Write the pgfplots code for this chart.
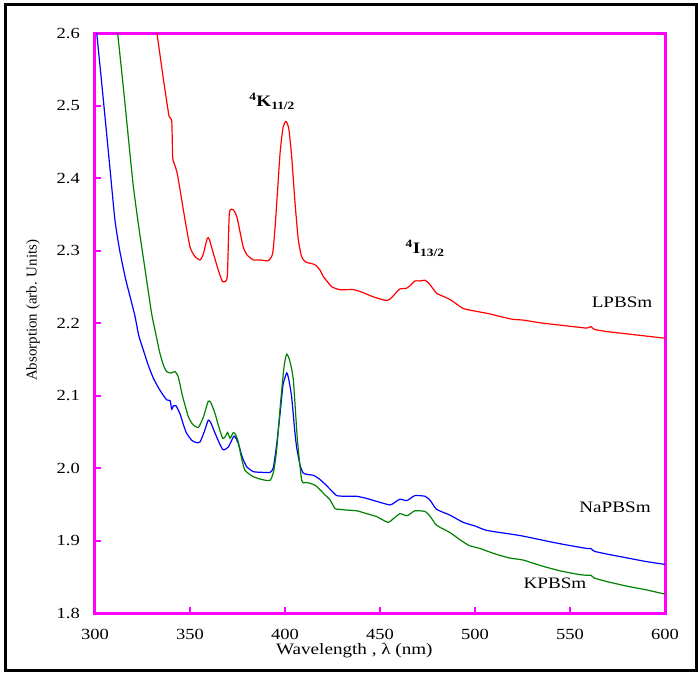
\documentclass[border=0pt]{standalone}
\usepackage{fontspec}
\setmainfont{Liberation Serif}[FakeStretch=1.2]
\newfontfamily\plainserif{Liberation Serif}
\usepackage{pgfplots}
\pgfplotsset{compat=1.18}
\definecolor{mag}{RGB}{255,0,255}
\definecolor{dgreen}{RGB}{0,128,0}
\definecolor{cblue}{RGB}{0,0,255}
\definecolor{cred}{RGB}{255,0,0}

\pgfplotstableread{
x y
332.6 2.600
335.8 2.540
337.5 2.510
339 2.485
340.4 2.478
340.9 2.428
342 2.418
343.3 2.406
345 2.380
347.4 2.342
350 2.305
352.5 2.292
355.3 2.287
357 2.295
359.1 2.317
360.2 2.315
362.3 2.296
365 2.272
367.2 2.257
369.6 2.264
370.7 2.351
372.8 2.356
374.6 2.347
376 2.330
378 2.305
380 2.294
383.3 2.287
387 2.287
391.2 2.286
393.5 2.296
395 2.340
397.4 2.434
399 2.470
400.5 2.478
402 2.468
403.5 2.430
405.3 2.365
407 2.315
408.8 2.291
411 2.284
414 2.282
416 2.280
418.4 2.273
420.2 2.264
422 2.258
424.6 2.250
428.9 2.246
436 2.246
441 2.242
446.5 2.236
453.5 2.231
456.1 2.235
458.5 2.242
460.5 2.247
464 2.248
466 2.252
468.4 2.258
471 2.258
473.7 2.259
476 2.254
479.8 2.241
484 2.236
487.7 2.231
493.8 2.220
500.9 2.216
507 2.213
513.2 2.209
520 2.205
525.4 2.204
535 2.200
545 2.197
555 2.194
559 2.193
561 2.195
563 2.191
570 2.188
580 2.185
590 2.182
600 2.179
}\redtab

\pgfplotstableread{
x y
300.9 2.600
303 2.545
305.5 2.478
308 2.410
310.5 2.342
313 2.300
316 2.262
318.5 2.236
321 2.210
323 2.183
325.4 2.163
328 2.142
330.7 2.124
334 2.108
337.7 2.094
339.5 2.093
340.4 2.081
341.3 2.086
342.6 2.086
344.7 2.075
346.5 2.060
348.2 2.048
351 2.038
353.5 2.035
355.3 2.036
357.5 2.050
359.6 2.066
361 2.062
363.2 2.048
365.5 2.034
367.5 2.025
370.2 2.029
373.2 2.044
375.4 2.034
377.5 2.015
379.8 2.002
383.3 1.995
388 1.994
392.1 1.994
393.8 2.000
395.5 2.030
397.4 2.075
399 2.115
400.9 2.131
402 2.122
403.5 2.098
405 2.055
406.1 2.029
408 2.003
409.6 1.993
412 1.991
414.9 1.990
418 1.985
421 1.978
424 1.970
427.2 1.962
432 1.961
437.7 1.961
443 1.958
448.2 1.954
455.3 1.949
458 1.953
460.5 1.957
464 1.955
466 1.958
468.4 1.962
473.7 1.961
476.5 1.955
479.8 1.943
486.8 1.935
493.8 1.925
500 1.920
506.1 1.914
518.4 1.909
525.4 1.906
540 1.898
550 1.893
559 1.889
561 1.889
563 1.885
570 1.881
580 1.876
590 1.871
600 1.867
}\bluetab

\pgfplotstableread{
x y
311.9 2.600
314 2.548
316 2.497
318 2.444
320.2 2.388
323 2.333
326 2.280
329.8 2.213
331.6 2.190
334 2.160
336 2.142
337.7 2.133
340 2.131
342.1 2.133
343.8 2.126
346 2.100
349.1 2.071
351.5 2.060
354.4 2.056
357 2.070
359.6 2.092
361 2.090
363.2 2.075
365 2.058
367.2 2.041
368.5 2.043
369.8 2.049
371.1 2.041
372.8 2.049
374 2.046
375.4 2.036
377 2.015
378.9 1.997
383.3 1.988
388 1.984
392.1 1.983
394 1.995
395.6 2.025
397.5 2.085
399.5 2.140
400.9 2.157
402.5 2.148
404.4 2.121
406.5 2.040
408.8 1.983
411 1.980
413.2 1.979
416 1.976
418.4 1.970
421 1.963
423.7 1.956
426.3 1.944
428.9 1.943
432 1.942
437.7 1.941
443 1.937
448.2 1.933
451 1.929
454.4 1.925
457 1.930
460.5 1.937
464 1.934
466 1.937
468.4 1.941
473.7 1.940
476.5 1.933
479.8 1.921
486.8 1.911
492.1 1.901
497 1.893
502.6 1.889
510 1.882
518 1.876
525.4 1.873
535 1.865
545 1.858
555 1.853
559 1.852
561 1.852
563 1.848
570 1.843
580 1.837
590 1.832
600 1.826
}\greentab

\begin{document}
\begin{tikzpicture}
\useasboundingbox (-95bp,-60bp) rectangle (603bp,613bp);
\begin{axis}[
  scale only axis,
  width=570bp, height=580bp,
  xmin=300, xmax=600, ymin=1.8, ymax=2.6,
  xtick={300,350,400,450,500,550,600},
  ytick={1.8,1.9,2.0,2.1,2.2,2.3,2.4,2.5,2.6},
  y tick label style={/pgf/number format/fixed, /pgf/number format/fixed zerofill, /pgf/number format/precision=1},
  /pgf/number format/assume math mode=true,
  axis line style={mag, line width=3bp},
  tick style={mag, line width=2bp},
  major tick length=6bp,
  tick align=inside,
  xtick pos=bottom, ytick pos=left,
  ticklabel style={font=\fontsize{15.5}{15.5}\selectfont},
  xticklabel style={anchor=center, yshift=-21bp},
  yticklabel style={anchor=east, inner sep=0pt, xshift=-15bp},
  xlabel={Wavelength , λ (nm)},
  xlabel style={at={(axis description cs:0.455,-0.0655)}, anchor=center, font=\fontsize{16}{16}\selectfont},
  ylabel={Absorption (arb. Units)},
  ylabel style={at={(axis description cs:-0.1088,0.522)}, anchor=center, font=\plainserif\fontsize{15}{15}\selectfont},
  clip=true,
]
\addplot[cred, line width=1.2bp, smooth, tension=0.35] table[x=x,y=y] {\redtab};
\addplot[cblue, line width=1.2bp, smooth, tension=0.35] table[x=x,y=y] {\bluetab};
\addplot[dgreen, line width=1.2bp, smooth, tension=0.35] table[x=x,y=y] {\greentab};
\node[font=\fontsize{16}{16}\selectfont] at (axis cs:577.4,2.228) {LPBSm};
\node[font=\fontsize{16}{16}\selectfont] at (axis cs:573.7,1.946) {NaPBSm};
\node[font=\fontsize{16}{16}\selectfont] at (axis cs:542.1,1.841) {KPBSm};
\node[font=\bfseries\fontsize{16}{16}\selectfont] at (axis cs:393.2,2.506) {\textsuperscript{4}K\textsubscript{11/2}};
\node[font=\bfseries\fontsize{16}{16}\selectfont] at (axis cs:473.7,2.303) {\textsuperscript{4}I\textsubscript{13/2}};
\end{axis}
\draw[line width=3bp, black] (-89bp,-57bp) rectangle (601bp,608bp);
\end{tikzpicture}
\end{document}
